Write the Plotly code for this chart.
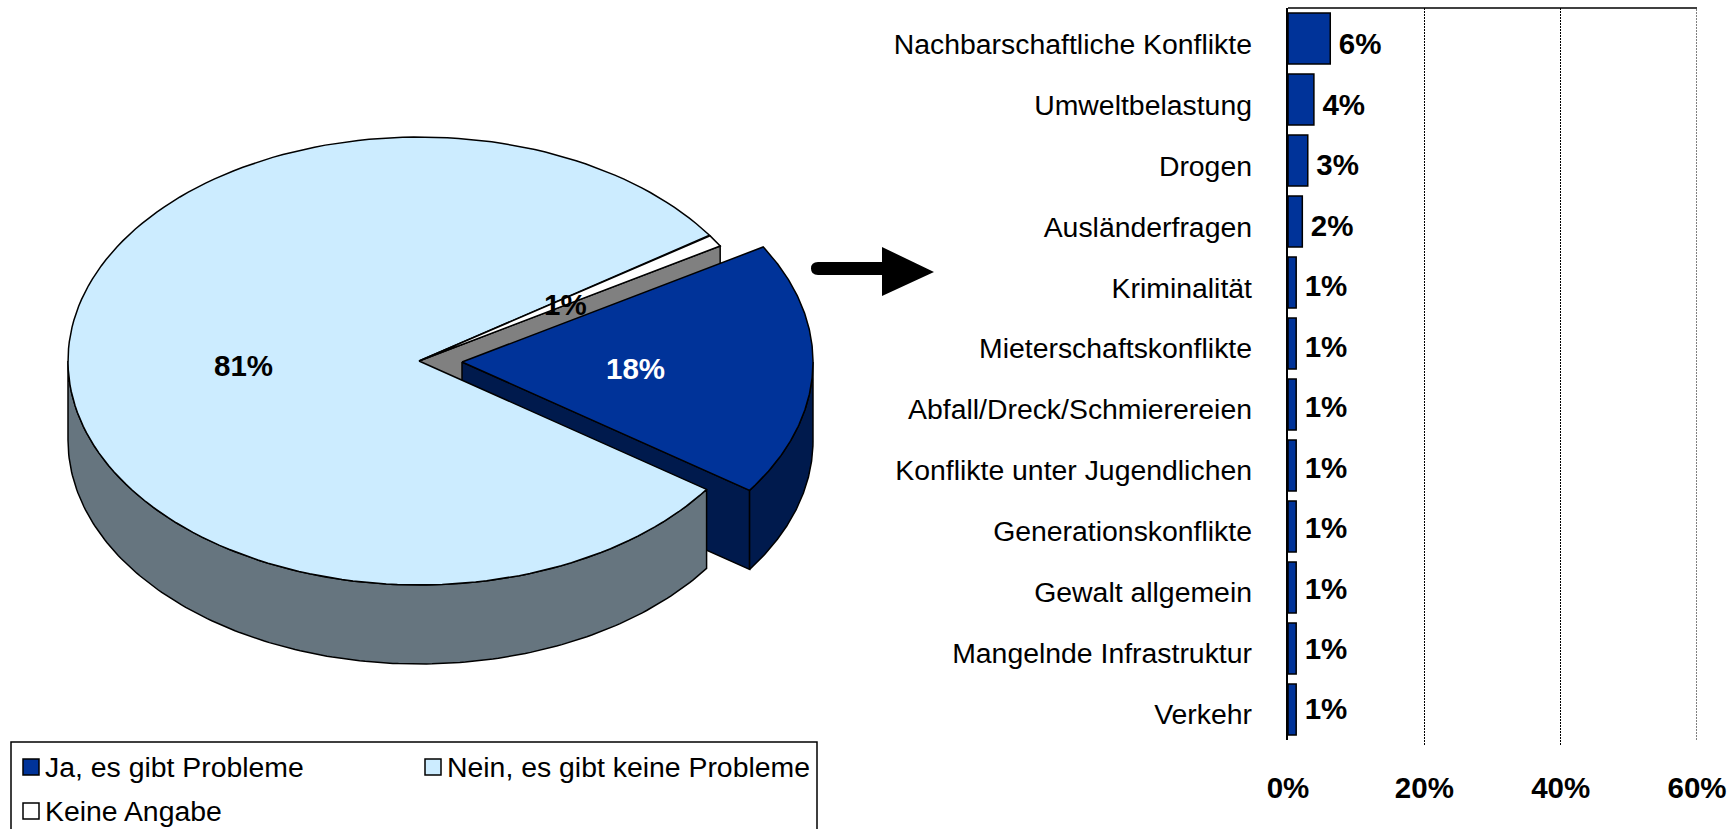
import numpy as np
import plotly.graph_objects as go

# ---- data ----
pie_labels = ["Ja, es gibt Probleme", "Nein, es gibt keine Probleme", "Keine Angabe"]
pie_values = [18.3, 80.8, 0.9]
bar_categories = ["Nachbarschaftliche Konflikte", "Umweltbelastung", "Drogen", "Ausländerfragen",
                  "Kriminalität", "Mieterschaftskonflikte", "Abfall/Dreck/Schmierereien",
                  "Konflikte unter Jugendlichen", "Generationskonflikte", "Gewalt allgemein",
                  "Mangelnde Infrastruktur", "Verkehr"]
bar_values = [6.2, 3.8, 2.9, 2.1, 1.2, 1.2, 1.2, 1.2, 1.2, 1.2, 1.2, 1.2]
bar_texts = ["6%", "4%", "3%", "2%", "1%", "1%", "1%", "1%", "1%", "1%", "1%", "1%"]
x_ticks = [0, 20, 40, 60]
x_tick_labels = ["0%", "20%", "40%", "60%"]

# ---- style ----
W, H = 1733, 829
FONT = "Liberation Sans, Arial, sans-serif"
BLUE, BLUE_DARK = "#003399", "#001A4D"
LIGHT, LIGHT_WALL = "#CCECFF", "#66757F"
WHITE_WALL = "#808080"
LW = 1.5
CX, CY, RX, RY, DEPTH, EXPLODE = 419, 361, 351, 224, 79, 43
START_DEG = 30.9
BOLD = 29.5
REG = 28.4


def yfrac(px):
    return 1 - px / H


def rim(t_from, t_to, cx=CX, dy=0):
    t = np.radians(np.linspace(t_from, t_to, 160))
    return cx + RX * np.cos(t), CY + dy - RY * np.sin(t)


def poly(x, y, color):
    return go.Scatter(x=list(x), y=list(y), mode="lines", fill="toself", fillcolor=color,
                      line=dict(color="black", width=LW), hoverinfo="skip",
                      showlegend=False, xaxis="x", yaxis="y")


def top(t_from, t_to, cx, color, dy=0):
    x, y = rim(t_from, t_to, cx, dy)
    return poly(np.r_[cx, x, cx], np.r_[CY + dy, y, CY + dy], color)


def wall(t_from, t_to, cx, color, dy=0):
    x, y = rim(t_from, t_to, cx, dy)
    x2, y2 = rim(t_to, t_from, cx, dy + DEPTH)
    return poly(np.r_[x, x2, x[0]], np.r_[y, y2, y[0]], color)


def cut(t, cx, color, dy=0):
    x, y = rim(t, t, cx, dy)
    xs = [cx, x[0], x[0], cx, cx]
    ys = [CY + dy, y[0], y[0] + DEPTH, CY + dy + DEPTH, CY + dy]
    return poly(xs, ys, color)


# slice angles from the values, clockwise from the start angle
b0 = START_DEG
b1 = b0 - pie_values[0] * 3.6
l1 = b1 - pie_values[1] * 3.6
w1 = l1 - pie_values[2] * 3.6
BCX = CX + EXPLODE
BDY = 1

fig = go.Figure()
for tr in [
    cut(b0, CX, WHITE_WALL),
    cut(b1, BCX, BLUE_DARK, BDY),
    wall(0, b1, BCX, BLUE_DARK, BDY),
    top(b0, b1, BCX, BLUE, BDY),
    wall(b1, -180, CX, LIGHT_WALL),
    top(b1, l1, CX, LIGHT),
    top(l1, w1, CX, "#FFFFFF"),
]:
    fig.add_trace(tr)

# bar chart
fig.add_trace(go.Bar(y=bar_categories, x=bar_values, orientation="h", marker=dict(color=BLUE, line=dict(color="black", width=LW)),
                     width=0.836, xaxis="x2", yaxis="y2", showlegend=False, hoverinfo="skip"))
# category labels (axis y3) and value labels (axis y4), slightly offset from the bars as in the original
fig.add_trace(go.Scatter(y=bar_categories, x=bar_values, mode="markers", marker=dict(opacity=0, size=1),
                         xaxis="x2", yaxis="y3", showlegend=False, hoverinfo="skip"))
fig.add_trace(go.Scatter(y=bar_categories, x=bar_values, mode="markers+text", text=bar_texts, textposition="middle right",
                         marker=dict(opacity=0, size=12), textfont=dict(family=FONT, size=BOLD, color="black", weight="bold"),
                         xaxis="x2", yaxis="y4", showlegend=False, hoverinfo="skip", cliponaxis=False))

rng = [11.5, -0.5]
GRID_DASH = "2px,1px"
cat = dict(type="category", categoryorder="array", categoryarray=bar_categories, range=rng, anchor="x2", automargin=False)
shapes = [
    # bar plot top border
    dict(type="line", xref="x2", yref="y2 domain", x0=0, x1=60, y0=1, y1=1, line=dict(color="black", width=LW)),
    # right-most gridline drawn as the plot border
    dict(type="line", xref="x2", yref="y2 domain", x0=60, x1=60, y0=0, y1=1, line=dict(color="black", width=1, dash=GRID_DASH)),
    # arrow
    dict(type="path", xref="x", yref="y",
         path="M 818 262 L 882 262 L 882 247 L 934 272 L 882 296 L 882 275 L 818 275 Q 811 275 811 268.5 Q 811 262 818 262 Z",
         fillcolor="black", line=dict(color="black", width=0)),
    # legend box
    dict(type="rect", xref="x", yref="y", x0=11, x1=817, y0=742, y1=845, line=dict(color="black", width=LW), fillcolor="rgba(0,0,0,0)"),
]
annotations = []


def text(x, y, s, size=BOLD, color="black", bold=True, xanchor="center"):
    annotations.append(dict(xref="x", yref="y", x=x, y=y, text=f"<b>{s}</b>" if bold else s, showarrow=False,
                            font=dict(family=FONT, size=size, color=color), xanchor=xanchor, yanchor="middle",
                            borderpad=0, borderwidth=0))


text(635, 368, f"{round(pie_values[0])}%", color="white")
text(243, 365, f"{round(pie_values[1])}%")
text(565, 304, f"{round(pie_values[2])}%")

legend_pos = [(23, 767, 47), (425, 767, 449), (23, 811, 47)]
for (sx, sy, tx), lab, col in zip(legend_pos, pie_labels, [BLUE, LIGHT, "#FFFFFF"]):
    shapes.append(dict(type="rect", xref="x", yref="y", x0=sx, x1=sx + 16, y0=sy - 8, y1=sy + 8,
                       fillcolor=col, line=dict(color="black", width=LW)))
    text(tx - 2, sy, lab, size=REG, bold=False, xanchor="left")

fig.update_layout(
    template="none",
    width=W, height=H, margin=dict(l=0, r=0, t=0, b=0), autosize=False,
    paper_bgcolor="white", plot_bgcolor="rgba(0,0,0,0)", showlegend=False,
    font=dict(family=FONT, color="black"), shapes=shapes, annotations=annotations,
    bargap=0.164,
    xaxis=dict(domain=[0, 1], range=[0, W], visible=False, fixedrange=True, automargin=False),
    yaxis=dict(domain=[0, 1], range=[H, 0], visible=False, fixedrange=True, automargin=False),
    xaxis2=dict(domain=[1288 / W, 1697 / W], range=[0, 60], anchor="y2", tickvals=x_ticks, ticktext=x_tick_labels,
                showgrid=True, gridcolor="black", gridwidth=1, griddash=GRID_DASH, zeroline=False, showline=False,
                automargin=False, ticks="", ticklabelstandoff=27,
                tickfont=dict(family=FONT, size=BOLD, color="black", weight="bold")),
    yaxis2=dict(domain=[yfrac(740), yfrac(8)], showticklabels=False, ticks="", showline=True, linecolor="black",
                linewidth=LW, showgrid=False, zeroline=False, **cat),
    yaxis3=dict(domain=[yfrac(744.5), yfrac(13.5)], showline=False, showgrid=False, zeroline=False, ticks="", ticklabelstandoff=35,
                tickfont=dict(family=FONT, size=REG, color="black"), **cat),
    yaxis4=dict(domain=[yfrac(742.3), yfrac(16.8)], showline=False, showgrid=False, zeroline=False, showticklabels=False, ticks="", **cat),
)

fig.write_html("out.html", config={"displayModeBar": False},
               post_script="document.body.style.margin='0';document.body.style.overflow='hidden';")
